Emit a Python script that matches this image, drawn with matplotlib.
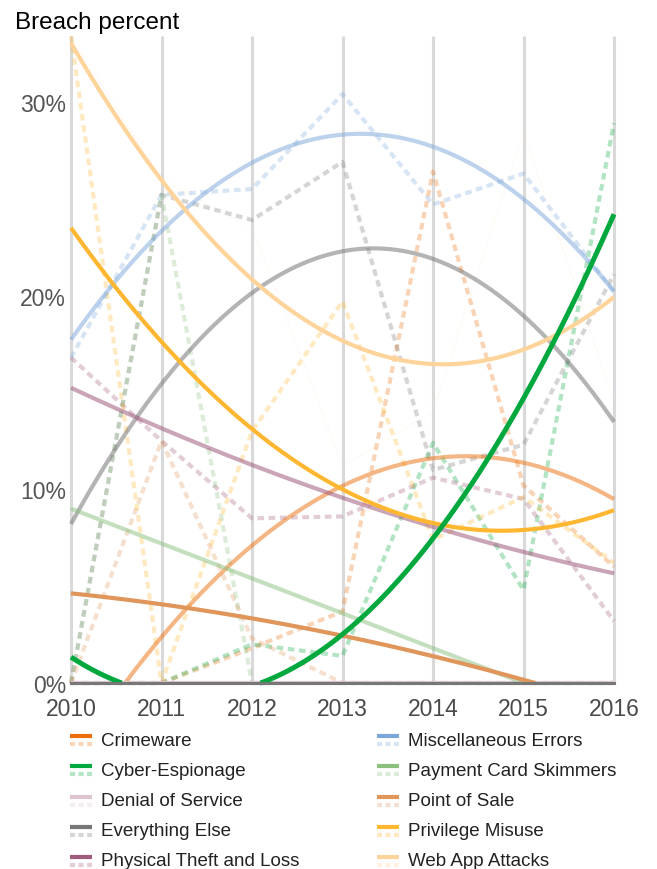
import matplotlib

matplotlib.use("Agg")
import matplotlib.pyplot as plt
import numpy as np
from matplotlib.colors import to_rgb
from matplotlib.lines import Line2D

plt.rcParams["font.family"] = ["Liberation Sans", "DejaVu Sans"]

# breach share per pattern, percent
years = [2010, 2011, 2012, 2013, 2014, 2015, 2016]
crimeware = [0, 0, 1.8, 3.7, 26.4, 10.2, 6.0]
cyber_espionage = [0, 0, 2.0, 1.4, 12.4, 4.8, 28.9]
denial_of_service = [0, 0, 0, 0, 0, 0, 0]
everything_else = [0, 25.2, 23.9, 26.9, 11.0, 12.3, 21.1]
physical_theft = [16.8, 12.5, 8.5, 8.6, 10.6, 9.5, 3.2]
misc_errors = [16.8, 25.2, 25.5, 30.4, 24.7, 26.3, 20.2]
card_skimmers = [0, 25.2, 0, 0, 0, 0, 0]
point_of_sale = [0, 12.5, 2.3, 0, 0, 0, 0]
privilege_misuse = [33.4, 0, 13.0, 19.7, 7.4, 9.6, 6.2]
web_app_attacks = [33.4, 26.0, 23.5, 11.2, 14.0, 28.5, 14.5]

names = ["Crimeware", "Cyber-Espionage", "Denial of Service", "Everything Else",
         "Physical Theft and Loss", "Miscellaneous Errors", "Payment Card Skimmers",
         "Point of Sale", "Privilege Misuse", "Web App Attacks"]
series = [crimeware, cyber_espionage, denial_of_service, everything_else,
          physical_theft, misc_errors, card_skimmers, point_of_sale,
          privilege_misuse, web_app_attacks]
y_ticks = [0, 10, 20, 30]

colors = ["#ec6f0c", "#00a83e", "#dcc5d0", "#777777", "#a05a7c",
          "#7ba7db", "#8bc17f", "#e0955a", "#ffb732", "#ffd49a"]
solid_alpha = [0.5, 1, 1, 0.55, 0.55, 0.5, 0.5, 1, 1, 1]
dot_alpha = [0.3, 0.3, 0.3, 0.3, 0.3, 0.3, 0.3, 0.3, 0.3, 0.15]
dot_width = [3, 3, 3, 3, 3, 3, 3, 3, 3, 1.0]


def light(c, a=0.3):
    return tuple(1 - a * (1 - v) for v in to_rgb(c))


W, H = 657, 870
fig = plt.figure(figsize=(W / 100, H / 100), dpi=100)
ax = fig.add_axes([71 / W, 1 - 684 / H, 543 / W, 647 / H])
ymax = 33.4
ax.set_xlim(2010, 2016)
ax.set_ylim(0, ymax)
for s in ax.spines.values():
    s.set_visible(False)

ax.vlines(years, 0, ymax, color="#d9d9d9", lw=2.2, zorder=0, clip_on=False)

xs = np.linspace(2010, 2016, 601)
yr = np.array(years) - 2013
for i, vals in enumerate(series):
    ax.plot(years, vals, color=colors[i], alpha=dot_alpha[i], lw=dot_width[i],
            linestyle=(0, (1.6, 1.1)), dash_capstyle="butt", clip_on=False, zorder=2)
for i, vals in enumerate(series):
    fit = np.polyval(np.polyfit(yr, vals, 2), xs - 2013)
    neg = fit < 0
    hide = neg & np.r_[True, neg[:-1]] & np.r_[neg[1:], True]
    y = np.where(hide, np.nan, np.maximum(fit, 0))
    ax.plot(xs, y, color=colors[i], alpha=solid_alpha[i],
            lw=3.6 if i == 1 else 3, solid_capstyle="butt", clip_on=False,
            zorder=4 if i == 1 else 3)

ax.plot([2010, 2016], [0, 0], color="#777777", lw=2.2, zorder=5, clip_on=False)

ax.set_xticks(years)
ax.set_xticklabels([str(y) for y in years], fontsize=16.5, color="#4a4a4a")
ax.set_yticks(y_ticks)
ax.set_yticklabels([f"{t}%" for t in y_ticks], fontsize=16.5, color="#555555")
ax.tick_params(axis="x", length=0, pad=10)
ax.tick_params(axis="y", length=0, pad=3.5)

fig.text(15 / W, 1 - 29 / H, "Breach percent", fontsize=17.5, va="baseline", ha="left")

for i, name in enumerate(names):
    col, row = divmod(i, 5)
    x0 = [70, 377][col]
    yc = 741 + 30.25 * row
    fig.add_artist(Line2D([x0 / W, (x0 + 22) / W], [1 - (yc - 4) / H] * 2,
                          transform=fig.transFigure, color=colors[i], lw=3,
                          solid_capstyle="butt"))
    fig.add_artist(Line2D([x0 / W, (x0 + 22) / W], [1 - (yc + 4) / H] * 2,
                          transform=fig.transFigure, color=light(colors[i]), lw=3,
                          linestyle=(0, (1.2, 0.85)), dash_capstyle="butt"))
    fig.text((x0 + 31) / W, 1 - yc / H, name, fontsize=13.5, va="center", ha="left",
             color="#222222")

fig.savefig("out.png", dpi=100)
plt.close(fig)
